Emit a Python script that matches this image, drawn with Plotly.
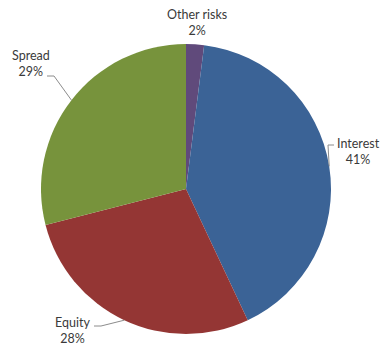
import math
import plotly.graph_objects as go

# Risk contributions (percent of total)
categories = ["Other risks", "Interest", "Equity", "Spread"]
shares = [2, 41, 28, 29]
colors = ["#604A7B", "#3B6396", "#943634", "#77933C"]

W, H = 380, 346
cx, cy, r = 186, 189, 145  # pie centre / radius in pixels (top-left origin)


def px(x):
    return x / W


def py(y):
    return 1 - y / H


fig = go.Figure(
    go.Pie(
        labels=categories,
        values=shares,
        sort=False,
        direction="clockwise",
        rotation=0,
        textinfo="none",
        hoverinfo="label+percent",
        marker=dict(colors=colors, line=dict(width=0)),
        domain=dict(x=[px(cx - r), px(cx + r)], y=[py(cy + r), py(cy - r)]),
        showlegend=False,
    )
)

# Mid-angle of each slice, measured clockwise from 12 o'clock
total = sum(shares)
mids = []
acc = 0
for v in shares:
    mids.append((acc + v / 2) / total * 2 * math.pi)
    acc += v


def edge(i):
    a = mids[i]
    return cx + r * math.sin(a), cy - r * math.cos(a)


font = dict(family="Lato, 'Open Sans', sans-serif", size=12.5, color="#3A3A3A")
line_style = dict(color="#8C8C8C", width=1)

# label anchor (pixel), and leader-line elbow points
label_pos = {
    "Other risks": (197, 22),
    "Interest": (358, 151),
    "Equity": (72, 330),
    "Spread": (31, 63),
}
elbows = {
    "Interest": [(328, 145), (334, 145)],
    "Equity": [(101, 326), (94, 326)],
    "Spread": [(54, 76), (47, 76)],
}

annotations = []
shapes = []
for i, name in enumerate(categories):
    lx, ly = label_pos[name]
    annotations.append(
        dict(
            x=px(lx), y=py(ly), xref="paper", yref="paper",
            text=f"{name}<br>{shares[i]}%", showarrow=False,
            font=font, align="center", xanchor="center", yanchor="middle",
        )
    )
    if name in elbows:
        pts = [edge(i)] + elbows[name]
        path = "M " + " L ".join(f"{px(x)},{py(y)}" for x, y in pts)
        shapes.append(dict(type="path", path=path, xref="paper", yref="paper",
                           line=line_style))

fig.update_layout(
    width=W, height=H,
    margin=dict(l=0, r=0, t=0, b=0),
    paper_bgcolor="white", plot_bgcolor="white",
    annotations=annotations, shapes=shapes,
)

fig.write_html("out.html")
